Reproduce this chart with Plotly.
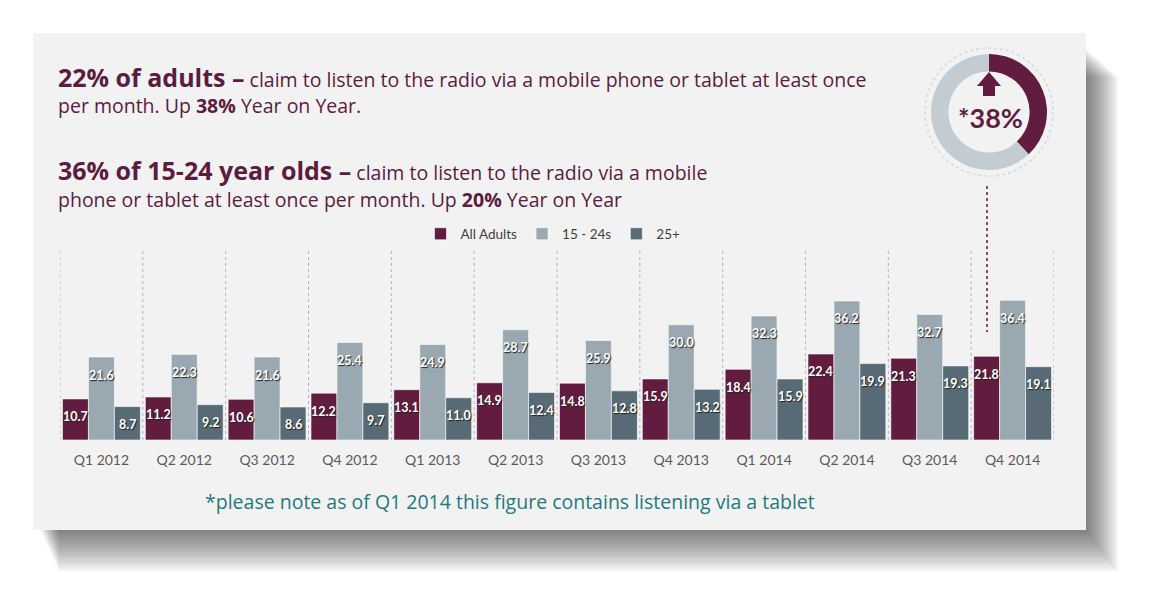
import plotly.graph_objects as go

# data
quarters = ['Q1 2012', 'Q2 2012', 'Q3 2012', 'Q4 2012', 'Q1 2013', 'Q2 2013',
            'Q3 2013', 'Q4 2013', 'Q1 2014', 'Q2 2014', 'Q3 2014', 'Q4 2014']
all_adults = [10.7, 11.2, 10.6, 12.2, 13.1, 14.9, 14.8, 15.9, 18.4, 22.4, 21.3, 21.8]
age_15_24 = [21.6, 22.3, 21.6, 25.4, 24.9, 28.7, 25.9, 30.0, 32.3, 36.2, 32.7, 36.4]
age_25_plus = [8.7, 9.2, 8.6, 9.7, 11.0, 12.4, 12.8, 13.2, 15.9, 19.9, 19.3, 19.1]
yoy_growth = [38, 62]   # donut: growth share vs remainder

W, H = 1151, 595
OFF = 8   # the html body adds an 8px margin, so shift everything back
MAROON = '#621c40'
LIGHT = '#99a8b1'
DARK = '#576a75'
TEXT = '#5c1c3f'
FONT = 'Lato'
HEAD_FONT = 'Open Sans'


# pixel (as seen on the page) -> paper helpers
def px(x):
    return (x - OFF) / W


def py(y):
    return 1 - (y - OFF) / H


fig = go.Figure()

series = [('All Adults', all_adults, MAROON),
          ('15 - 24s', age_15_24, LIGHT),
          ('25+', age_25_plus, DARK)]
bar_px = (px(1054) - px(60)) * W / len(quarters) * 0.94 / 3
annotations = []
for k, (name, vals, col) in enumerate(series):
    fig.add_bar(
        x=quarters, y=vals, name=name,
        marker=dict(color=col, line=dict(color='rgba(255,255,255,0.6)', width=1)),
        hoverinfo='skip',
    )
    # value labels a little below the top of each bar
    for q, v in zip(quarters, vals):
        annotations.append(dict(
            x=q, y=v, xref='x', yref='y', xshift=(k - 1) * bar_px, yshift=-18,
            text=f'{v:.1f}', showarrow=False, xanchor='center', yanchor='middle',
            font=dict(family=FONT, size=12.5, color='white', weight='bold',
                      shadow='1px 1px 1px #222')))

# donut in the top right corner
fig.add_pie(
    values=yoy_growth, labels=['growth', 'rest'], hole=0.7, sort=False,
    direction='clockwise', rotation=0, textinfo='none', hoverinfo='skip',
    marker=dict(colors=[MAROON, '#c3ccd2'], line=dict(width=0)),
    domain=dict(x=[px(931), px(1047)], y=[py(170), py(54)]),
    showlegend=False,
)

shapes = []
# soft drop shadow of the slide panel
for i in range(20):
    shapes.append(dict(type='rect', xref='paper', yref='paper', layer='below',
                       x0=px(40 + i * 1.0), x1=px(1086 + i * 1.7),
                       y0=py(48 + i * 1.5), y1=py(530 + i * 2.2),
                       fillcolor='rgba(0,0,0,0.03)', line=dict(width=0)))
shapes.append(dict(type='rect', xref='paper', yref='paper', layer='below',
                   x0=px(33), x1=px(1086), y0=py(33), y1=py(530),
                   fillcolor='#f2f2f2', line=dict(width=0)))
# dotted separators between quarters
for i in range(len(quarters) + 1):
    shapes.append(dict(type='line', xref='x', yref='y', layer='below',
                       x0=i - 0.5, x1=i - 0.5, y0=0, y1=50,
                       line=dict(color='#aab5bc', width=1, dash='dot')))
# decorative ring round the donut
shapes.append(dict(type='circle', xref='paper', yref='paper',
                   x0=px(989 - 64), x1=px(989 + 64), y0=py(112 + 64), y1=py(112 - 64),
                   line=dict(color='#d9dee1', width=2, dash='dot')))
# up arrow inside donut
arrow = [(983, 96), (983, 86), (977, 86), (989, 72), (1001, 86), (995, 86), (995, 96)]
path = 'M ' + ' L '.join(f'{px(a):.5f},{py(b):.5f}' for a, b in arrow) + ' Z'
shapes.append(dict(type='path', xref='paper', yref='paper', path=path,
                   fillcolor=MAROON, line=dict(width=0)))
# dotted connector from donut to the Q4 2014 bar
shapes.append(dict(type='line', xref='paper', yref='paper',
                   x0=px(987), x1=px(987), y0=py(186), y1=py(332),
                   line=dict(color='#8a4a6a', width=2, dash='dot')))

text_notes = [
    dict(x=px(56), y=py(77), xanchor='left',
         text='<b><span style="font-size:25px">22% of adults \u2013</span></b> '
              'claim to listen to the radio via a mobile phone or tablet at least once',
         font=dict(family=HEAD_FONT, size=19.5, color=TEXT)),
    dict(x=px(56), y=py(106), xanchor='left',
         text='per month. Up <b>38%</b> Year on Year.',
         font=dict(family=HEAD_FONT, size=19.5, color=TEXT)),
    dict(x=px(56), y=py(170), xanchor='left',
         text='<b><span style="font-size:25px">36% of 15-24 year olds \u2013</span></b> '
              'claim to listen to the radio via a mobile',
         font=dict(family=HEAD_FONT, size=19.5, color=TEXT)),
    dict(x=px(56), y=py(200), xanchor='left',
         text='phone or tablet at least once per month. Up <b>20%</b> Year on Year',
         font=dict(family=HEAD_FONT, size=19.5, color=TEXT)),
    dict(x=px(510), y=py(501), xanchor='center',
         text='*please note as of Q1 2014 this figure contains listening via a tablet',
         font=dict(family=HEAD_FONT, size=19.5, color='#1d7a80')),
    dict(x=px(991), y=py(117), xanchor='center',
         text='<b>*38%</b>', font=dict(family=FONT, size=27, color=MAROON)),
]
for a in text_notes:
    a.update(xref='paper', yref='paper', showarrow=False, yanchor='middle')
annotations += text_notes

fig.update_layout(
    width=W, height=H,
    margin=dict(l=0, r=0, t=0, b=0),
    paper_bgcolor='white', plot_bgcolor='rgba(0,0,0,0)',
    barmode='group', bargap=0.06, bargroupgap=0,
    font=dict(family=FONT),
    xaxis=dict(domain=[px(60), px(1054)], range=[-0.5, 11.5], showgrid=False,
               showline=False, zeroline=False, ticks='', ticklabelstandoff=10,
               tickfont=dict(family=FONT, size=14, color='#5a5a5a')),
    yaxis=dict(domain=[py(440), py(248)], range=[0, 50], visible=False),
    legend=dict(orientation='h', x=px(553), xanchor='center', y=py(234),
                yanchor='middle', itemwidth=30, bgcolor='rgba(0,0,0,0)',
                font=dict(family=FONT, size=13.5, color='#3f3f3f'),
                traceorder='normal'),
    shapes=shapes, annotations=annotations,
)

fig.write_html('out.html')
